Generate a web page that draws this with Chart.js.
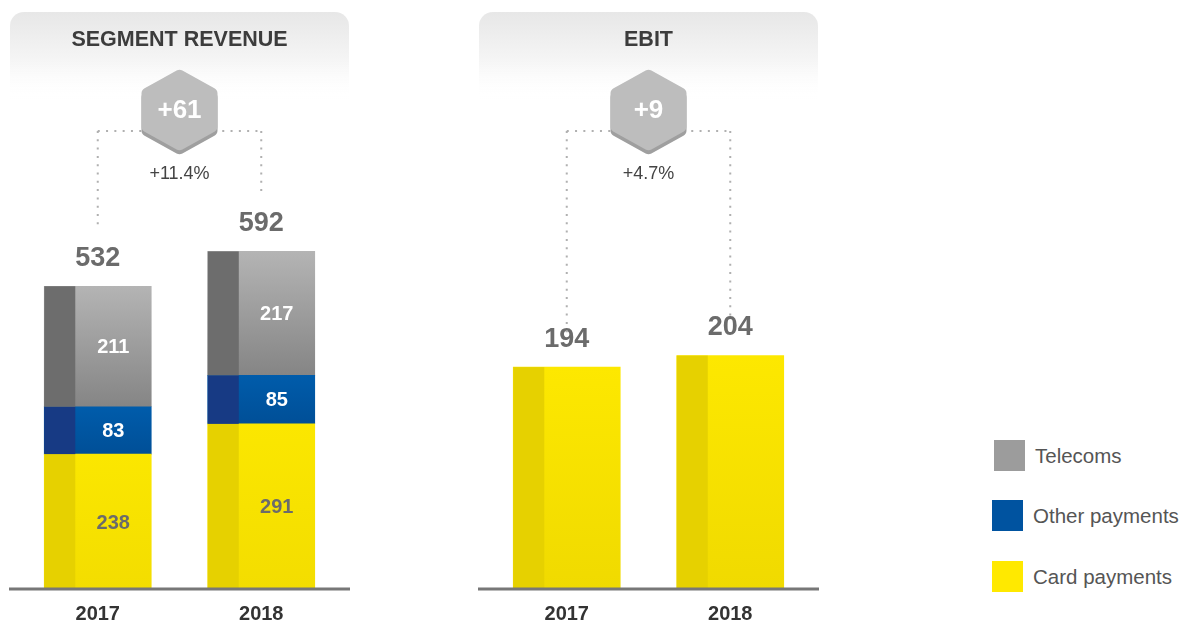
<!DOCTYPE html>
<html>
<head>
<meta charset="utf-8">
<script src="https://cdn.jsdelivr.net/npm/chart.js@4.4.1/dist/chart.umd.min.js"></script>
<style>
html, body { margin: 0; padding: 0; background: #fff; width: 1181px; height: 624px; overflow: hidden; font-family: "Liberation Sans", Arial, sans-serif; }
.box { position: absolute; top: 0; width: 360px; height: 638px; }
.item { position: absolute; height: 31px; display: flex; align-items: center; }
.item span.sw { display: inline-block; width: 31px; height: 31px; margin-right: 10px; }
.item span.tx { font-size: 20.5px; color: #555; white-space: nowrap; }
</style>
</head>
<body>
<div class="box" style="left:0"><canvas id="revenueChart"></canvas></div>
<div class="box" style="left:470px"><canvas id="ebitChart"></canvas></div>
<div id="legend"></div>
<script>
// data
const years = ['2017', '2018'];
const cardPayments = [238, 291];
const otherPayments = [83, 85];
const telecoms = [211, 217];
const revenueTotals = [532, 592];
const ebitValues = [194, 204];

const legendLabels = ['Telecoms', 'Other payments', 'Card payments'];
const legendColors = ['#9c9c9c', '#0053a0', '#ffe900'];
const legendTops = [440, 500, 561];
const legendLefts = [994, 992, 992];

Chart.defaults.font.family = '"Liberation Sans", Arial, sans-serif';

// vertical gradient for one stacked segment
function segFill(top, bottom) {
    return (c) => {
        const chart = c.chart;
        if (c.type !== 'data' || !chart.chartArea) return bottom;
        const y = chart.scales.y;
        let start = 0;
        for (let j = 0; j < c.datasetIndex; j++) start += chart.data.datasets[j].data[c.dataIndex];
        const v = chart.data.datasets[c.datasetIndex].data[c.dataIndex];
        const g = chart.ctx.createLinearGradient(0, y.getPixelForValue(start + v), 0, y.getPixelForValue(start));
        g.addColorStop(0, top);
        g.addColorStop(1, bottom);
        return g;
    };
}

function hexPath(ctx, cx, cy, hw, hh, sh, r) {
    const p = [[cx, cy - hh], [cx + hw, cy - sh], [cx + hw, cy + sh], [cx, cy + hh], [cx - hw, cy + sh], [cx - hw, cy - sh]];
    ctx.beginPath();
    ctx.moveTo((p[5][0] + p[0][0]) / 2, (p[5][1] + p[0][1]) / 2);
    for (let i = 0; i < 6; i++) {
        const n = p[(i + 1) % 6];
        ctx.arcTo(p[i][0], p[i][1], n[0], n[1], r);
    }
    ctx.closePath();
}

// dark left strip, value labels, baseline, header and hexagon
const barDeco = {
    id: 'barDeco',
    afterDatasetsDraw(chart, args, o) {
        const ctx = chart.ctx, a = chart.chartArea;
        ctx.save();
        chart.data.datasets.forEach((ds, di) => {
            chart.getDatasetMeta(di).data.forEach((el) => {
                const left = el.x - el.width / 2;
                ctx.fillStyle = ds.stripColor;
                ctx.fillRect(left, el.y, el.width * 0.29, el.base - el.y);
            });
        });
        // baseline
        ctx.strokeStyle = '#777';
        ctx.lineWidth = 3;
        ctx.beginPath();
        ctx.moveTo(a.left - 7, a.bottom - 1);
        ctx.lineTo(a.right + 7, a.bottom - 1);
        ctx.stroke();
        ctx.textAlign = 'center';
        ctx.textBaseline = 'middle';
        if (o.inside) {
            ctx.font = 'bold 20px "Liberation Sans", Arial, sans-serif';
            chart.data.datasets.forEach((ds, di) => {
                chart.getDatasetMeta(di).data.forEach((el, i) => {
                    ctx.fillStyle = ds.labelColor;
                    ctx.fillText(ds.data[i], el.x + el.width * 0.145, (el.y + el.base) / 2 + 1);
                });
            });
        }
        // totals above
        const last = chart.getDatasetMeta(chart.data.datasets.length - 1).data;
        ctx.font = 'bold 27px "Liberation Sans", Arial, sans-serif';
        ctx.fillStyle = '#6b6b6b';
        last.forEach((el, i) => ctx.fillText(o.totals[i], el.x, el.y - 28));
        ctx.restore();
    },
    afterDraw(chart, args, o) {
        const ctx = chart.ctx, a = chart.chartArea;
        const last = chart.getDatasetMeta(chart.data.datasets.length - 1).data;
        ctx.save();
        // header box
        const x0 = a.left - 6, x1 = a.right + 6, y0 = 12, y1 = 100;
        const g = ctx.createLinearGradient(0, y0, 0, y1);
        g.addColorStop(0, '#e7e7e7');
        g.addColorStop(0.55, '#f5f5f5');
        g.addColorStop(1, 'rgba(255,255,255,0)');
        ctx.fillStyle = g;
        ctx.beginPath();
        ctx.roundRect(x0, y0, x1 - x0, y1 - y0, [14, 14, 0, 0]);
        ctx.fill();
        ctx.fillStyle = '#3c3c3c';
        ctx.font = 'bold 21.5px "Liberation Sans", Arial, sans-serif';
        ctx.textAlign = 'center';
        ctx.textBaseline = 'middle';
        const cx = (last[0].x + last[1].x) / 2;
        ctx.fillText(o.title, cx, 40);
        // dotted connectors
        ctx.strokeStyle = '#b0b0b0';
        ctx.lineWidth = 2;
        ctx.setLineDash([2, 6.3]);
        ctx.beginPath();
        ctx.moveTo(last[0].x, 131);
        ctx.lineTo(last[1].x, 131);
        last.forEach((el) => {
            ctx.moveTo(el.x, 131);
            ctx.lineTo(el.x, el.y - 28 - o.gap);
        });
        ctx.stroke();
        ctx.setLineDash([]);
        // hexagon
        ctx.fillStyle = '#9f9f9f';
        hexPath(ctx, cx, 114, 38, 41, 20, 6);
        ctx.fill();
        ctx.fillStyle = '#bdbdbd';
        hexPath(ctx, cx, 110, 38, 41, 20, 6);
        ctx.fill();
        ctx.fillStyle = '#fff';
        ctx.font = 'bold 26px "Liberation Sans", Arial, sans-serif';
        ctx.fillText(o.delta, cx, 111);
        ctx.fillStyle = '#444';
        ctx.font = '18px "Liberation Sans", Arial, sans-serif';
        ctx.fillText(o.pct, cx, 174);
        ctx.restore();
    }
};

function xAxis() {
    return {
        stacked: true,
        grid: { display: false, drawTicks: false },
        border: { display: false },
        ticks: { color: '#333', font: { size: 20, weight: 'bold' }, padding: 12 }
    };
}

new Chart(document.getElementById('revenueChart'), {
    type: 'bar',
    data: {
        labels: years,
        datasets: [
            { label: 'Card payments', data: cardPayments, backgroundColor: segFill('#fbe700', '#f3dd00'), stripColor: '#e6d100', labelColor: '#6b6b6b' },
            { label: 'Other payments', data: otherPayments, backgroundColor: segFill('#005cab', '#004f97'), stripColor: '#173a84', labelColor: '#fff' },
            { label: 'Telecoms', data: telecoms, backgroundColor: segFill('#b4b4b4', '#858585'), stripColor: '#6d6d6d', labelColor: '#fff' }
        ]
    },
    options: {
        responsive: true,
        maintainAspectRatio: false,
        animation: false,
        barThickness: 107,
        layout: { padding: { left: 16, right: 17, top: 19, bottom: 0 } },
        scales: {
            x: xAxis(),
            y: { stacked: true, display: false, min: 0, max: 1000 }
        },
        plugins: {
            legend: { display: false },
            tooltip: { enabled: false },
            barDeco: { inside: true, totals: revenueTotals, title: 'SEGMENT REVENUE', delta: '+61', pct: '+11.4%', gap: 29 }
        }
    },
    plugins: [barDeco]
});

new Chart(document.getElementById('ebitChart'), {
    type: 'bar',
    data: {
        labels: years,
        datasets: [
            { label: 'EBIT', data: ebitValues, backgroundColor: segFill('#fde800', '#f0da00'), stripColor: '#e6d100', labelColor: '#6b6b6b' }
        ]
    },
    options: {
        responsive: true,
        maintainAspectRatio: false,
        animation: false,
        barThickness: 107,
        layout: { padding: { left: 15, right: 18, top: 19, bottom: 0 } },
        scales: {
            x: xAxis(),
            y: { stacked: true, display: false, min: 0, max: 497 }
        },
        plugins: {
            legend: { display: false },
            tooltip: { enabled: false },
            barDeco: { inside: false, totals: ebitValues, title: 'EBIT', delta: '+9', pct: '+4.7%', gap: 6 }
        }
    },
    plugins: [barDeco]
});

// legend
const legend = document.getElementById('legend');
legendLabels.forEach((name, i) => {
    const d = document.createElement('div');
    d.className = 'item';
    d.style.top = legendTops[i] + 'px';
    d.style.left = legendLefts[i] + 'px';
    d.innerHTML = '<span class="sw" style="background:' + legendColors[i] + '"></span><span class="tx">' + name + '</span>';
    legend.appendChild(d);
});
</script>
</body>
</html>
